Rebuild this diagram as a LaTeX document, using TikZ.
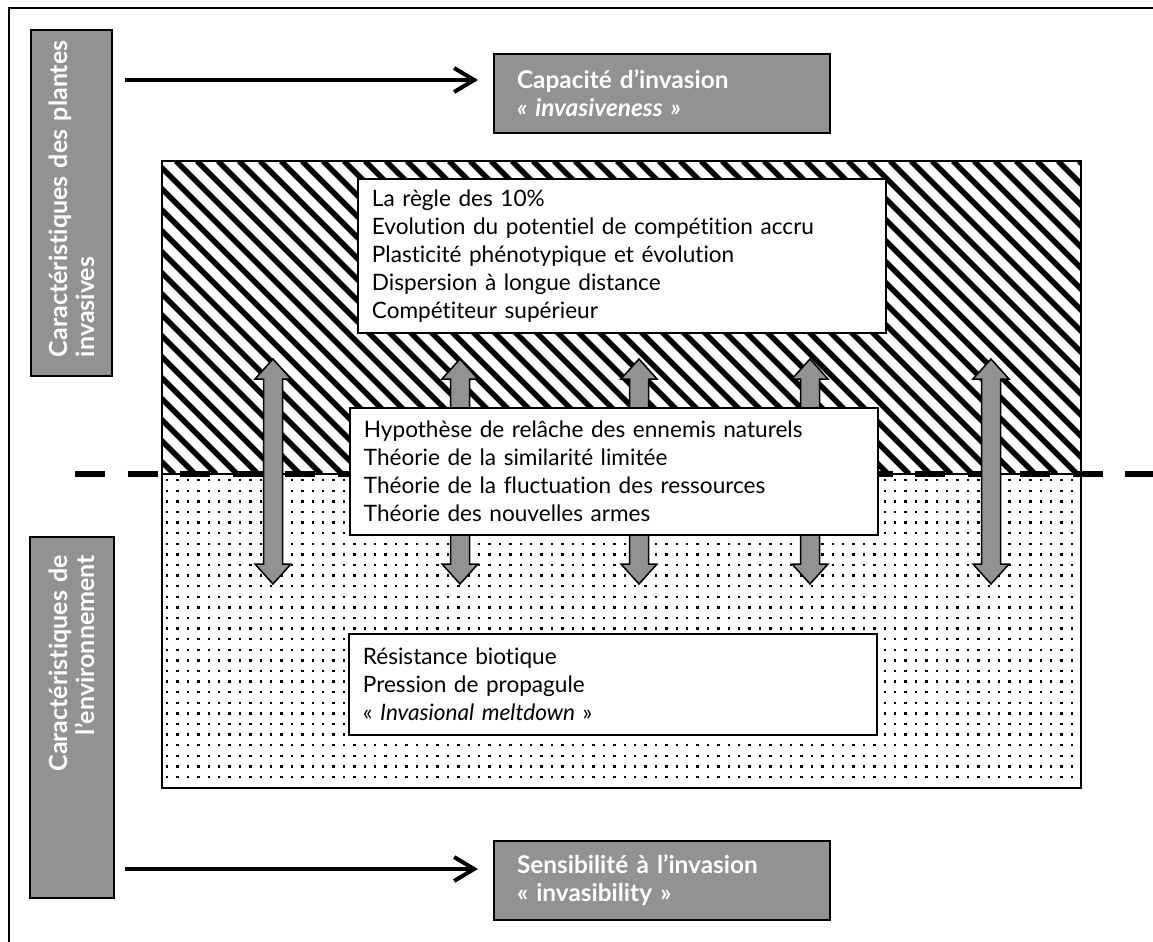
\documentclass[tikz,border=0pt]{standalone}
\usepackage{fontspec}
\setmainfont{Lato}[Ligatures=NoCommon]
\usetikzlibrary{arrows.meta}
\definecolor{boxgray}{RGB}{146,146,146}

\begin{document}
\begin{tikzpicture}[x=0.5pt, y=-0.5pt,
    sidebox/.style={draw, line width=1pt, fill=boxgray, text=white, rotate=90,
      font=\bfseries\fontsize{12.5}{13.5}\selectfont},
    graybox/.style={draw, line width=1pt, fill=boxgray, text=white, anchor=north west,
      align=left, inner xsep=11.5pt, text width=145pt, minimum height=39.5pt,
      font=\bfseries\fontsize{12.2}{14}\selectfont},
    textbox/.style={draw, line width=0.9pt, fill=white, anchor=north west, align=left,
      inner xsep=7pt, text width=250pt, font=\fontsize{11.3}{14}\selectfont},
    thickarrow/.style={line width=2pt, -{Straight Barb[length=10pt,width=12pt]}},
    blockarrow/.style={line width=0.75pt, fill=boxgray}]
  \useasboundingbox (0,0) rectangle (1153,942);
  \draw[line width=1pt] (9,960) -- (9,8) -- (1170,8);

  \node[sidebox, minimum width=173pt, minimum height=40.5pt, inner xsep=9.5pt,
    text width=154pt, align=left] (plantbox) at (71.5,203)
    {\makebox[154pt][s]{Caractéristiques des plantes}\\invasives};
  \node[sidebox, minimum width=180.5pt, minimum height=42pt, inner xsep=9pt,
    text width=162.5pt, align=right] (envbox) at (72,717.5)
    {Caractéristiques de\\l’environnement};

  \node[graybox] (invasiveness) at (493,53) {Capacité d’invasion\\\textit{« invasiveness »}};
  \node[graybox] (invasibility) at (493,840) {Sensibilité à l’invasion\\« invasibility »};

  \coordinate (toparrow) at (0,80);
  \coordinate (botarrow) at (0,869);
  \draw[thickarrow, shorten <=6pt, shorten >=7.5pt] (plantbox.south |- toparrow) -- (invasiveness.west |- toparrow);
  \draw[thickarrow, shorten <=5pt, shorten >=7.5pt] (envbox.south |- botarrow) -- (invasibility.west |- botarrow);

  \begin{scope}
    \clip (162,161) rectangle (1081,474);
    \foreach \x in {-160,-139,...,1100}
      \draw[line width=2.7pt] (\x,161) -- ++(313,313);
  \end{scope}
  \foreach \x in {166,176.4,...,1081}
    \foreach \y in {479,489.6,...,786}
      \fill (\x,\y) rectangle ++(2.4,2.4);
  \draw[line width=1pt] (162,161) rectangle (1081,788);
  \draw[line width=0.75pt] (162,474) -- (1081,474);

  \coordinate (dashstart) at (75,474);
  \coordinate (dashend) at (1170,474);
  \draw[line width=3pt, dash pattern=on 15pt off 11.25pt] (dashstart) -- (dashend);

  \foreach \c in {273,460,639,810,991}
    \filldraw[blockarrow] (\c,359) -- (\c+18,379) -- (\c+9.5,379) -- (\c+9.5,564)
      -- (\c+18,564) -- (\c,584) -- (\c-18,564) -- (\c-9.5,564) -- (\c-9.5,379)
      -- (\c-18,379) -- cycle;

  \node[textbox, minimum height=77pt] (traits) at (357,178)
    {La règle des 10\%\\Evolution du potentiel de compétition accru\\Plasticité phénotypique et évolution\\Dispersion à longue distance\\Compétiteur supérieur};
  \node[textbox, minimum height=63.5pt] (hypotheses) at (349,407)
    {Hypothèse de relâche des ennemis naturels\\Théorie de la similarité limitée\\Théorie de la fluctuation des ressources\\Théorie des nouvelles armes};
  \node[textbox, minimum height=50.5pt] (environment) at (348,633)
    {Résistance biotique\\Pression de propagule\\« \textit{Invasional meltdown} »};
\end{tikzpicture}
\end{document}
